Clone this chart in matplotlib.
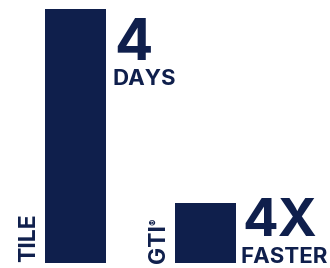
import numpy as np
import matplotlib.pyplot as plt

# data
labels = ['TILE', 'GTI']
values = [4, 0.945]          # days
big_text = ['4', '4X']
small_text = ['DAYS', 'FASTER']

navy = '#0f1f4c'
W, H = 330, 268

plt.rcParams['font.family'] = ['Inter', 'DejaVu Sans']

fig = plt.figure(figsize=(W / 100, H / 100), dpi=100)
ax = fig.add_axes([0, 5 / H, 1, 263 / H])
x = np.arange(len(values))
ax.bar(x, values, width=61 / 130, color=navy)
ax.set_xlim(-75.5 / 130, 1 + (W - 205.5) / 130)
ax.set_ylim(0, 4 * 263 / 254)
ax.axis('off')


def put(px, py, s, size, **kw):
    # pixel position from top-left
    opts = dict(ha='left', va='baseline')
    opts.update(kw)
    fig.text(px / W, 1 - py / H, s, fontsize=size, color=navy,
             fontweight='bold', **opts)


put(114, 60, big_text[0], 41)
put(113, 85, small_text[0], 16)
put(242, 236, big_text[1], 38)
put(240, 263, small_text[1], 16)

put(35, 262, labels[0], 16.5, rotation=90, rotation_mode='anchor')
put(165, 263, labels[1], 16.5, rotation=90, rotation_mode='anchor')
put(149, 225, '®', 7, rotation=90, rotation_mode='anchor', va='top')

fig.savefig('out.png', dpi=100)
